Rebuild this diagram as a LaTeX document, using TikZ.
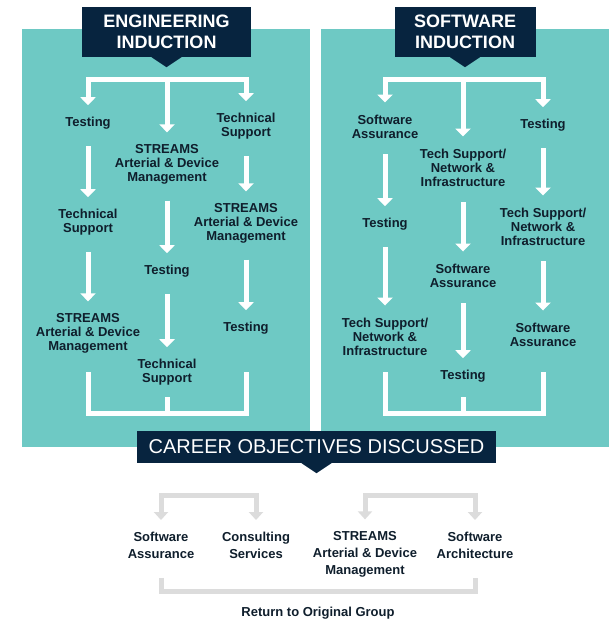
\documentclass[tikz,border=0pt]{standalone}
\usepackage{fontspec}
\setmainfont{Liberation Sans}
\usetikzlibrary{arrows.meta}

\definecolor{panelteal}{HTML}{6EC9C4}
\definecolor{headnavy}{HTML}{07243F}
\definecolor{inktext}{HTML}{0F1E2C}
\definecolor{bargray}{HTML}{DCDCDC}

\tikzset{
  item/.style={align=center,inner sep=0pt,yshift=-1.5pt,text=inktext,font=\bfseries\fontsize{13}{14}\selectfont},
  careeritem/.style={item,font=\bfseries\fontsize{13}{17}\selectfont},
  headbox/.style={fill=headnavy,text=white,align=center,inner sep=0pt,font=\bfseries\fontsize{18}{21}\selectfont},
  flow/.style={draw=white,line width=5pt,-{Triangle[width=15pt,length=8pt]},shorten <=16pt,shorten >=12pt},
  split/.style={flow,shorten <=0pt},
  mergeline/.style={draw=white,line width=5pt},
  gsplit/.style={draw=bargray,line width=5pt,{Triangle[width=14pt,length=8pt]}-{Triangle[width=14pt,length=8pt]},shorten <=12pt,shorten >=12pt},
  gmerge/.style={draw=bargray,line width=5pt,shorten <=19pt,shorten >=19pt}
}

\begin{document}
\begin{tikzpicture}[x=1pt,y=-1pt]
\useasboundingbox (0,0) rectangle (613,620);

% panels
\fill[panelteal] (22,29) rectangle (310,447);
\fill[panelteal] (321,29) rectangle (609,447);

% headers
\node[headbox,minimum width=169,minimum height=50] (eh) at (166.5,32) {ENGINEERING\\INDUCTION};
\fill[headnavy] (eh.south) ++(-15,0) -- ++(30,0) -- ++(-15,10) -- cycle;
\node[headbox,minimum width=141,minimum height=50] (sh) at (465,32) {SOFTWARE\\INDUCTION};
\fill[headnavy] (sh.south) ++(-15,0) -- ++(30,0) -- ++(-15,10) -- cycle;

% engineering induction
\node[item] (e11) at (88,122) {Testing};
\node[item] (e12) at (88,221) {Technical\\Support};
\node[item] (e13) at (88,332) {STREAMS\\Arterial \& Device\\Management};
\node[item] (e21) at (167,163) {STREAMS\\Arterial \& Device\\Management};
\node[item] (e22) at (167,270) {Testing};
\node[item] (e23) at (167,371) {Technical\\Support};
\node[item] (e31) at (246,125) {Technical\\Support};
\node[item] (e32) at (246,222) {STREAMS\\Arterial \& Device\\Management};
\node[item] (e33) at (246,327) {Testing};

\coordinate (etop) at (167,80);
\draw[split] (etop) -| (e11);
\draw[split] (etop) -| (e31);
\draw[split] (etop) -- (e21);
\draw[flow] (e11) -- (e12);
\draw[flow] (e12) -- (e13);
\draw[flow] (e21) -- (e22);
\draw[flow] (e22) -- (e23);
\draw[flow] (e31) -- (e32);
\draw[flow] (e32) -- (e33);
\coordinate (ebl) at (88,372);
\coordinate (ebr) at (246,372);
\coordinate (ebm) at (167,397);
\coordinate (ebot) at (167,413);
\draw[mergeline] (ebl) |- (ebot) -| (ebr);
\draw[mergeline] (ebm) -- (ebot);

% software induction
\node[item] (s11) at (385,125) {Software\\Assurance};
\node[item] (s12) at (385,223) {Testing};
\node[item] (s13) at (385,335) {Tech Support/\\Network \&\\Infrastructure};
\node[item] (s21) at (463,166) {Tech Support/\\Network \&\\Infrastructure};
\node[item] (s22) at (463,274) {Software\\Assurance};
\node[item] (s23) at (463,375) {Testing};
\node[item] (s31) at (543,124) {Testing};
\node[item] (s32) at (543,225) {Tech Support/\\Network \&\\Infrastructure};
\node[item] (s33) at (543,333) {Software\\Assurance};

\coordinate (stop) at (463,80);
\draw[split] (stop) -| (s11);
\draw[split] (stop) -| (s31);
\draw[split] (stop) -- (s21);
\draw[flow] (s11) -- (s12);
\draw[flow] (s12) -- (s13);
\draw[flow] (s21) -- (s22);
\draw[flow] (s22) -- (s23);
\draw[flow] (s31) -- (s32);
\draw[flow] (s32) -- (s33);
\coordinate (sbl) at (385,372);
\coordinate (sbr) at (543,372);
\coordinate (sbm) at (463,397);
\coordinate (sbot) at (463,413);
\draw[mergeline] (sbl) |- (sbot) -| (sbr);
\draw[mergeline] (sbm) -- (sbot);

% career objectives
\node[headbox,minimum width=359,minimum height=32,font=\fontsize{20}{24}\selectfont] (ch) at (316.5,447) {CAREER OBJECTIVES DISCUSSED};
\fill[headnavy] (ch.south) ++(-15,0) -- ++(30,0) -- ++(-15,10) -- cycle;

\node[careeritem] (c1) at (161,544) {Software\\Assurance};
\node[careeritem] (c2) at (256,544) {Consulting\\Services};
\node[careeritem] (c3) at (365,553) {STREAMS\\Arterial \& Device\\Management};
\node[careeritem] (c4) at (475,544) {Software\\Architecture};
\node[item] (ret) at (318,612) {Return to Original Group};

\coordinate (cl) at (210,495);
\coordinate (cr) at (420,495);
\coordinate (cbot) at (318,591);
\draw[gsplit] (c1) |- (cl) -| (c2);
\draw[gsplit] (c3) |- (cr) -| (c4);
\draw[gmerge] (c1) |- (cbot) -| (c4);
\end{tikzpicture}
\end{document}
